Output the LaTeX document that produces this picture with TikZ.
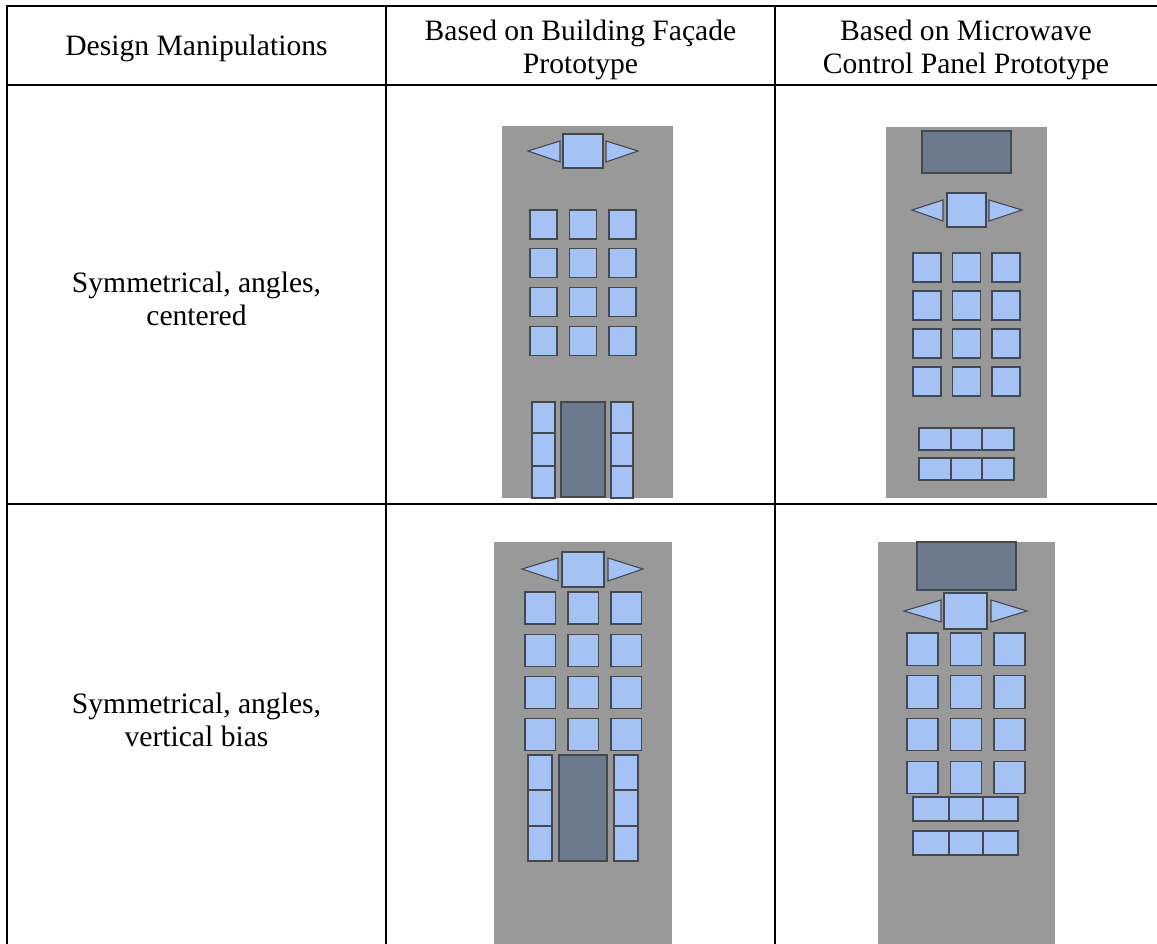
\documentclass[tikz,border=0pt]{standalone}
\usepackage{fontspec}
\setmainfont{Liberation Serif}
\usepackage{tikz}

\definecolor{panelgray}{RGB}{153,153,153}
\definecolor{keyblue}{RGB}{164,194,244}
\definecolor{screenslate}{RGB}{109,122,142}
\definecolor{edgegray}{RGB}{68,72,80}

\begin{document}
\begin{tikzpicture}[x=1pt,y=-1pt,
      rule/.style={line width=2pt},
      panel/.style={fill=panelgray},
      key/.style={fill=keyblue,draw=edgegray,line width=1.1pt},
      screen/.style={fill=screenslate,draw=edgegray,line width=1.1pt},
      cell/.style={align=center,inner sep=0pt,font=\fontsize{29.6}{33}\selectfont}]
      \useasboundingbox (0,0) rectangle (1157,944);
      % table rules
      \draw[rule] (7,944) -- (7,6) -- (1157,6);
      \draw[rule] (7,85) -- (1157,85);
      \draw[rule] (7,504) -- (1157,504);
      \draw[rule] (386,6) -- (386,944);
      \draw[rule] (775,6) -- (775,944);
      % header and row labels
      \node[cell] (hdrA) at (196.5,48) {Design Manipulations};
      \node[cell] (hdrB) at (580.5,50) {Based on Building Façade\\Prototype};
      \node[cell] (hdrC) at (966,50) {Based on Microwave\\Control Panel Prototype};
      \node[cell] (rowA) at (196.5,299) {Symmetrical, angles,\\centered};
      \node[cell] (rowB) at (196.5,720) {Symmetrical, angles,\\vertical bias};

      % facade, centered
      \fill[panel] (502,126) rectangle (673,498);
      \draw[key] (563,134) rectangle (603,168);
      \draw[key] (528,151) -- (560,141) -- (560,162) -- cycle;
      \draw[key] (638,151) -- (606,141) -- (606,162) -- cycle;
      \foreach \i in {0,1,2}
        \foreach \j in {0,...,3}
          \draw[key] (530+39.5*\i,210+38.7*\j) rectangle ++(27,29);
      \foreach \y/\h in {402/31,433/33,466/32} {
        \draw[key] (532,\y) rectangle ++(23,\h);
        \draw[key] (611,\y) rectangle ++(22,\h);
      }
      \draw[screen] (561,402) rectangle (605,497);

      % microwave, centered
      \fill[panel] (886,127) rectangle (1047,498);
      \draw[screen] (922,131) rectangle (1011,173);
      \draw[key] (947,193) rectangle (986,227);
      \draw[key] (912,210) -- (943,200) -- (943,221) -- cycle;
      \draw[key] (1022,210) -- (989,200) -- (989,221) -- cycle;
      \foreach \i in {0,1,2}
        \foreach \j in {0,...,3}
          \draw[key] (913+39.5*\i,253+38*\j) rectangle ++(28,29);
      \foreach \y in {428,458} {
        \draw[key] (919,\y) rectangle (951,\y+22);
        \draw[key] (951,\y) rectangle (982,\y+22);
        \draw[key] (982,\y) rectangle (1014,\y+22);
      }

      % facade, vertical bias
      \fill[panel] (494,542) rectangle (672,944);
      \draw[key] (562,552) rectangle (604,587);
      \draw[key] (522,569) -- (558,558) -- (558,581) -- cycle;
      \draw[key] (643,569) -- (608,558) -- (608,581) -- cycle;
      \foreach \i in {0,1,2}
        \foreach \j in {0,...,3}
          \draw[key] (525+43*\i,592+42.3*\j) rectangle ++(30.5,32);
      \foreach \y/\h in {755/35,790/36,826/35} {
        \draw[key] (528,\y) rectangle ++(24,\h);
        \draw[key] (614,\y) rectangle ++(24,\h);
      }
      \draw[screen] (559,755) rectangle (607,861);

      % microwave, vertical bias
      \fill[panel] (878,542) rectangle (1055,944);
      \draw[screen] (917,542) rectangle (1016,590);
      \draw[key] (944,593) rectangle (987,629);
      \draw[key] (904,611) -- (941,600) -- (941,622) -- cycle;
      \draw[key] (1027,611) -- (991,600) -- (991,622) -- cycle;
      \foreach \i in {0,1,2}
        \foreach \j in {0,...,3}
          \draw[key] (907+43.5*\i,633+42.7*\j) rectangle ++(31,32.5);
      \foreach \y in {797,831} {
        \draw[key] (913,\y) rectangle (949,\y+24);
        \draw[key] (949,\y) rectangle (983,\y+24);
        \draw[key] (983,\y) rectangle (1018,\y+24);
      }
\end{tikzpicture}
\end{document}
